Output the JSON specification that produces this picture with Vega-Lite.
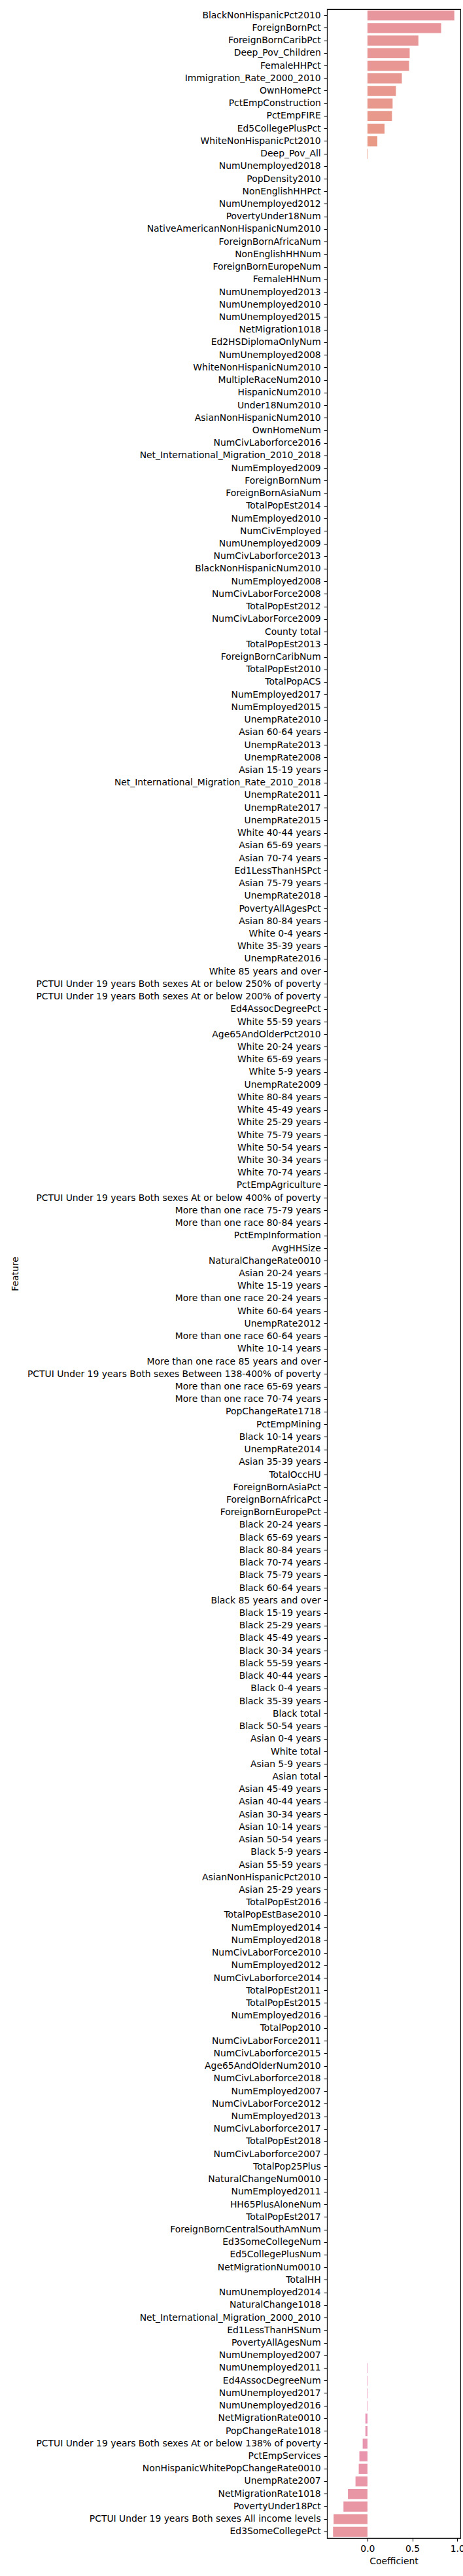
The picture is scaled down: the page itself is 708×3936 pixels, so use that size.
{
  "$schema": "https://vega.github.io/schema/vega-lite/v6.json",
  "autosize": {"type": "none"},
  "width": 204,
  "height": 3864,
  "padding": {"left": 500, "top": 14, "right": 4, "bottom": 58},
  "background": "white",
  "config": {
    "font": "DejaVu Sans",
    "view": {"stroke": "#000000", "strokeWidth": 1.1},
    "axis": {
      "domain": false,
      "grid": false,
      "tickColor": "#000000",
      "tickSize": 4.9,
      "tickWidth": 1.1,
      "labelColor": "#000000",
      "labelFont": "DejaVu Sans",
      "labelFontSize": 13.9,
      "labelPadding": 4.9,
      "titleColor": "#000000",
      "titleFont": "DejaVu Sans",
      "titleFontSize": 13.9,
      "titleFontWeight": "normal"
    }
  },
  "data": {
    "values": [
      {"Feature": "BlackNonHispanicPct2010", "Coefficient": 0.967},
      {"Feature": "ForeignBornPct", "Coefficient": 0.82},
      {"Feature": "ForeignBornCaribPct", "Coefficient": 0.567},
      {"Feature": "Deep_Pov_Children", "Coefficient": 0.47},
      {"Feature": "FemaleHHPct", "Coefficient": 0.463},
      {"Feature": "Immigration_Rate_2000_2010", "Coefficient": 0.383},
      {"Feature": "OwnHomePct", "Coefficient": 0.317},
      {"Feature": "PctEmpConstruction", "Coefficient": 0.28},
      {"Feature": "PctEmpFIRE", "Coefficient": 0.273},
      {"Feature": "Ed5CollegePlusPct", "Coefficient": 0.19},
      {"Feature": "WhiteNonHispanicPct2010", "Coefficient": 0.11},
      {"Feature": "Deep_Pov_All", "Coefficient": 0.006},
      {"Feature": "NumUnemployed2018", "Coefficient": 0},
      {"Feature": "PopDensity2010", "Coefficient": 0},
      {"Feature": "NonEnglishHHPct", "Coefficient": 0},
      {"Feature": "NumUnemployed2012", "Coefficient": 0},
      {"Feature": "PovertyUnder18Num", "Coefficient": 0},
      {"Feature": "NativeAmericanNonHispanicNum2010", "Coefficient": 0},
      {"Feature": "ForeignBornAfricaNum", "Coefficient": 0},
      {"Feature": "NonEnglishHHNum", "Coefficient": 0},
      {"Feature": "ForeignBornEuropeNum", "Coefficient": 0},
      {"Feature": "FemaleHHNum", "Coefficient": 0},
      {"Feature": "NumUnemployed2013", "Coefficient": 0},
      {"Feature": "NumUnemployed2010", "Coefficient": 0},
      {"Feature": "NumUnemployed2015", "Coefficient": 0},
      {"Feature": "NetMigration1018", "Coefficient": 0},
      {"Feature": "Ed2HSDiplomaOnlyNum", "Coefficient": 0},
      {"Feature": "NumUnemployed2008", "Coefficient": 0},
      {"Feature": "WhiteNonHispanicNum2010", "Coefficient": 0},
      {"Feature": "MultipleRaceNum2010", "Coefficient": 0},
      {"Feature": "HispanicNum2010", "Coefficient": 0},
      {"Feature": "Under18Num2010", "Coefficient": 0},
      {"Feature": "AsianNonHispanicNum2010", "Coefficient": 0},
      {"Feature": "OwnHomeNum", "Coefficient": 0},
      {"Feature": "NumCivLaborforce2016", "Coefficient": 0},
      {"Feature": "Net_International_Migration_2010_2018", "Coefficient": 0},
      {"Feature": "NumEmployed2009", "Coefficient": 0},
      {"Feature": "ForeignBornNum", "Coefficient": 0},
      {"Feature": "ForeignBornAsiaNum", "Coefficient": 0},
      {"Feature": "TotalPopEst2014", "Coefficient": 0},
      {"Feature": "NumEmployed2010", "Coefficient": 0},
      {"Feature": "NumCivEmployed", "Coefficient": 0},
      {"Feature": "NumUnemployed2009", "Coefficient": 0},
      {"Feature": "NumCivLaborforce2013", "Coefficient": 0},
      {"Feature": "BlackNonHispanicNum2010", "Coefficient": 0},
      {"Feature": "NumEmployed2008", "Coefficient": 0},
      {"Feature": "NumCivLaborForce2008", "Coefficient": 0},
      {"Feature": "TotalPopEst2012", "Coefficient": 0},
      {"Feature": "NumCivLaborForce2009", "Coefficient": 0},
      {"Feature": "County total", "Coefficient": 0},
      {"Feature": "TotalPopEst2013", "Coefficient": 0},
      {"Feature": "ForeignBornCaribNum", "Coefficient": 0},
      {"Feature": "TotalPopEst2010", "Coefficient": 0},
      {"Feature": "TotalPopACS", "Coefficient": 0},
      {"Feature": "NumEmployed2017", "Coefficient": 0},
      {"Feature": "NumEmployed2015", "Coefficient": 0},
      {"Feature": "UnempRate2010", "Coefficient": 0},
      {"Feature": "Asian 60-64 years", "Coefficient": 0},
      {"Feature": "UnempRate2013", "Coefficient": 0},
      {"Feature": "UnempRate2008", "Coefficient": 0},
      {"Feature": "Asian 15-19 years", "Coefficient": 0},
      {"Feature": "Net_International_Migration_Rate_2010_2018", "Coefficient": 0},
      {"Feature": "UnempRate2011", "Coefficient": 0},
      {"Feature": "UnempRate2017", "Coefficient": 0},
      {"Feature": "UnempRate2015", "Coefficient": 0},
      {"Feature": "White 40-44 years", "Coefficient": 0},
      {"Feature": "Asian 65-69 years", "Coefficient": 0},
      {"Feature": "Asian 70-74 years", "Coefficient": 0},
      {"Feature": "Ed1LessThanHSPct", "Coefficient": 0},
      {"Feature": "Asian 75-79 years", "Coefficient": 0},
      {"Feature": "UnempRate2018", "Coefficient": 0},
      {"Feature": "PovertyAllAgesPct", "Coefficient": 0},
      {"Feature": "Asian 80-84 years", "Coefficient": 0},
      {"Feature": "White 0-4 years", "Coefficient": 0},
      {"Feature": "White 35-39 years", "Coefficient": 0},
      {"Feature": "UnempRate2016", "Coefficient": 0},
      {"Feature": "White 85 years and over", "Coefficient": 0},
      {"Feature": "PCTUI Under 19 years Both sexes At or below 250% of poverty", "Coefficient": 0},
      {"Feature": "PCTUI Under 19 years Both sexes At or below 200% of poverty", "Coefficient": 0},
      {"Feature": "Ed4AssocDegreePct", "Coefficient": 0},
      {"Feature": "White 55-59 years", "Coefficient": 0},
      {"Feature": "Age65AndOlderPct2010", "Coefficient": 0},
      {"Feature": "White 20-24 years", "Coefficient": 0},
      {"Feature": "White 65-69 years", "Coefficient": 0},
      {"Feature": "White 5-9 years", "Coefficient": 0},
      {"Feature": "UnempRate2009", "Coefficient": 0},
      {"Feature": "White 80-84 years", "Coefficient": 0},
      {"Feature": "White 45-49 years", "Coefficient": 0},
      {"Feature": "White 25-29 years", "Coefficient": 0},
      {"Feature": "White 75-79 years", "Coefficient": 0},
      {"Feature": "White 50-54 years", "Coefficient": 0},
      {"Feature": "White 30-34 years", "Coefficient": 0},
      {"Feature": "White 70-74 years", "Coefficient": 0},
      {"Feature": "PctEmpAgriculture", "Coefficient": 0},
      {"Feature": "PCTUI Under 19 years Both sexes At or below 400% of poverty", "Coefficient": 0},
      {"Feature": "More than one race 75-79 years", "Coefficient": 0},
      {"Feature": "More than one race 80-84 years", "Coefficient": 0},
      {"Feature": "PctEmpInformation", "Coefficient": 0},
      {"Feature": "AvgHHSize", "Coefficient": 0},
      {"Feature": "NaturalChangeRate0010", "Coefficient": 0},
      {"Feature": "Asian 20-24 years", "Coefficient": 0},
      {"Feature": "White 15-19 years", "Coefficient": 0},
      {"Feature": "More than one race 20-24 years", "Coefficient": 0},
      {"Feature": "White 60-64 years", "Coefficient": 0},
      {"Feature": "UnempRate2012", "Coefficient": 0},
      {"Feature": "More than one race 60-64 years", "Coefficient": 0},
      {"Feature": "White 10-14 years", "Coefficient": 0},
      {"Feature": "More than one race 85 years and over", "Coefficient": 0},
      {"Feature": "PCTUI Under 19 years Both sexes Between 138-400% of poverty", "Coefficient": 0},
      {"Feature": "More than one race 65-69 years", "Coefficient": 0},
      {"Feature": "More than one race 70-74 years", "Coefficient": 0},
      {"Feature": "PopChangeRate1718", "Coefficient": 0},
      {"Feature": "PctEmpMining", "Coefficient": 0},
      {"Feature": "Black 10-14 years", "Coefficient": 0},
      {"Feature": "UnempRate2014", "Coefficient": 0},
      {"Feature": "Asian 35-39 years", "Coefficient": 0},
      {"Feature": "TotalOccHU", "Coefficient": 0},
      {"Feature": "ForeignBornAsiaPct", "Coefficient": 0},
      {"Feature": "ForeignBornAfricaPct", "Coefficient": 0},
      {"Feature": "ForeignBornEuropePct", "Coefficient": 0},
      {"Feature": "Black 20-24 years", "Coefficient": 0},
      {"Feature": "Black 65-69 years", "Coefficient": 0},
      {"Feature": "Black 80-84 years", "Coefficient": 0},
      {"Feature": "Black 70-74 years", "Coefficient": 0},
      {"Feature": "Black 75-79 years", "Coefficient": 0},
      {"Feature": "Black 60-64 years", "Coefficient": 0},
      {"Feature": "Black 85 years and over", "Coefficient": 0},
      {"Feature": "Black 15-19 years", "Coefficient": 0},
      {"Feature": "Black 25-29 years", "Coefficient": 0},
      {"Feature": "Black 45-49 years", "Coefficient": 0},
      {"Feature": "Black 30-34 years", "Coefficient": 0},
      {"Feature": "Black 55-59 years", "Coefficient": 0},
      {"Feature": "Black 40-44 years", "Coefficient": 0},
      {"Feature": "Black 0-4 years", "Coefficient": 0},
      {"Feature": "Black 35-39 years", "Coefficient": 0},
      {"Feature": "Black total", "Coefficient": 0},
      {"Feature": "Black 50-54 years", "Coefficient": 0},
      {"Feature": "Asian 0-4 years", "Coefficient": 0},
      {"Feature": "White total", "Coefficient": 0},
      {"Feature": "Asian 5-9 years", "Coefficient": 0},
      {"Feature": "Asian total", "Coefficient": 0},
      {"Feature": "Asian 45-49 years", "Coefficient": 0},
      {"Feature": "Asian 40-44 years", "Coefficient": 0},
      {"Feature": "Asian 30-34 years", "Coefficient": 0},
      {"Feature": "Asian 10-14 years", "Coefficient": 0},
      {"Feature": "Asian 50-54 years", "Coefficient": 0},
      {"Feature": "Black 5-9 years", "Coefficient": 0},
      {"Feature": "Asian 55-59 years", "Coefficient": 0},
      {"Feature": "AsianNonHispanicPct2010", "Coefficient": 0},
      {"Feature": "Asian 25-29 years", "Coefficient": 0},
      {"Feature": "TotalPopEst2016", "Coefficient": 0},
      {"Feature": "TotalPopEstBase2010", "Coefficient": 0},
      {"Feature": "NumEmployed2014", "Coefficient": 0},
      {"Feature": "NumEmployed2018", "Coefficient": 0},
      {"Feature": "NumCivLaborForce2010", "Coefficient": 0},
      {"Feature": "NumEmployed2012", "Coefficient": 0},
      {"Feature": "NumCivLaborforce2014", "Coefficient": 0},
      {"Feature": "TotalPopEst2011", "Coefficient": 0},
      {"Feature": "TotalPopEst2015", "Coefficient": 0},
      {"Feature": "NumEmployed2016", "Coefficient": 0},
      {"Feature": "TotalPop2010", "Coefficient": 0},
      {"Feature": "NumCivLaborForce2011", "Coefficient": 0},
      {"Feature": "NumCivLaborforce2015", "Coefficient": 0},
      {"Feature": "Age65AndOlderNum2010", "Coefficient": 0},
      {"Feature": "NumCivLaborforce2018", "Coefficient": 0},
      {"Feature": "NumEmployed2007", "Coefficient": 0},
      {"Feature": "NumCivLaborForce2012", "Coefficient": 0},
      {"Feature": "NumEmployed2013", "Coefficient": 0},
      {"Feature": "NumCivLaborforce2017", "Coefficient": 0},
      {"Feature": "TotalPopEst2018", "Coefficient": 0},
      {"Feature": "NumCivLaborforce2007", "Coefficient": 0},
      {"Feature": "TotalPop25Plus", "Coefficient": 0},
      {"Feature": "NaturalChangeNum0010", "Coefficient": 0},
      {"Feature": "NumEmployed2011", "Coefficient": 0},
      {"Feature": "HH65PlusAloneNum", "Coefficient": 0},
      {"Feature": "TotalPopEst2017", "Coefficient": 0},
      {"Feature": "ForeignBornCentralSouthAmNum", "Coefficient": 0},
      {"Feature": "Ed3SomeCollegeNum", "Coefficient": 0},
      {"Feature": "Ed5CollegePlusNum", "Coefficient": 0},
      {"Feature": "NetMigrationNum0010", "Coefficient": 0},
      {"Feature": "TotalHH", "Coefficient": 0},
      {"Feature": "NumUnemployed2014", "Coefficient": 0},
      {"Feature": "NaturalChange1018", "Coefficient": 0},
      {"Feature": "Net_International_Migration_2000_2010", "Coefficient": 0},
      {"Feature": "Ed1LessThanHSNum", "Coefficient": 0},
      {"Feature": "PovertyAllAgesNum", "Coefficient": 0},
      {"Feature": "NumUnemployed2007", "Coefficient": 0},
      {"Feature": "NumUnemployed2011", "Coefficient": -0.005},
      {"Feature": "Ed4AssocDegreeNum", "Coefficient": -0.005},
      {"Feature": "NumUnemployed2017", "Coefficient": -0.005},
      {"Feature": "NumUnemployed2016", "Coefficient": -0.005},
      {"Feature": "NetMigrationRate0010", "Coefficient": -0.023},
      {"Feature": "PopChangeRate1018", "Coefficient": -0.023},
      {"Feature": "PCTUI Under 19 years Both sexes At or below 138% of poverty", "Coefficient": -0.053},
      {"Feature": "PctEmpServices", "Coefficient": -0.09},
      {"Feature": "NonHispanicWhitePopChangeRate0010", "Coefficient": -0.097},
      {"Feature": "UnempRate2007", "Coefficient": -0.133},
      {"Feature": "NetMigrationRate1018", "Coefficient": -0.217},
      {"Feature": "PovertyUnder18Pct", "Coefficient": -0.267},
      {"Feature": "PCTUI Under 19 years Both sexes All income levels", "Coefficient": -0.377},
      {"Feature": "Ed3SomeCollegePct", "Coefficient": -0.383}
    ]
  },
  "mark": {"type": "bar"},
  "encoding": {
    "y": {
      "field": "Feature",
      "type": "nominal",
      "sort": null,
      "scale": {"paddingInner": 0.2, "paddingOuter": 0.1},
      "axis": {"title": "Feature", "labelLimit": 1000, "labelOverlap": false, "titleX": -473, "titleY": 1932, "titleAngle": -90, "titleBaseline": "alphabetic", "titleAlign": "center"}
    },
    "x": {
      "field": "Coefficient",
      "type": "quantitative",
      "scale": {"domain": [-0.4505, 1.0345], "nice": false, "zero": false},
      "axis": {"title": "Coefficient", "values": [0, 0.5, 1], "format": ".1f", "titlePadding": 5, "labelFlush": false}
    },
    "color": {
      "field": "Feature",
      "type": "nominal",
      "sort": null,
      "legend": null,
      "scale": {
        "range": [
          "#e8969e", "#e8969b", "#e89799", "#e89796", "#e89794", "#e89892", "#e8988f", "#e8988d", "#e8998b", "#e89989", "#e89a87", "#e89a85",
          "#d6a27a", "#d6a27a", "#d6a27a", "#d6a27a", "#d6a27a", "#d6a27a", "#d6a27a", "#d6a27a", "#d6a27a", "#d6a27a", "#d6a27a", "#d6a27a", "#d6a27a",
          "#bda86f", "#bda86f", "#bda86f", "#bda86f", "#bda86f", "#bda86f", "#bda86f", "#bda86f", "#bda86f", "#bda86f", "#bda86f", "#bda86f", "#bda86f", "#bda86f", "#bda86f",
          "#a0b06f", "#a0b06f", "#a0b06f", "#a0b06f", "#a0b06f", "#a0b06f", "#a0b06f", "#a0b06f", "#a0b06f", "#a0b06f", "#a0b06f", "#a0b06f", "#a0b06f", "#a0b06f", "#a0b06f", "#a0b06f", "#a0b06f", "#a0b06f", "#a0b06f", "#a0b06f",
          "#7db77a", "#7db77a", "#7db77a", "#7db77a", "#7db77a", "#7db77a", "#7db77a", "#7db77a", "#7db77a", "#7db77a", "#7db77a", "#7db77a", "#7db77a", "#7db77a", "#7db77a", "#7db77a", "#7db77a", "#7db77a", "#7db77a", "#7db77a",
          "#72b59b", "#72b59b", "#72b59b", "#72b59b", "#72b59b", "#72b59b", "#72b59b", "#72b59b", "#72b59b", "#72b59b", "#72b59b", "#72b59b", "#72b59b", "#72b59b", "#72b59b", "#72b59b", "#72b59b", "#72b59b", "#72b59b", "#72b59b",
          "#73b2ae", "#73b2ae", "#73b2ae", "#73b2ae", "#73b2ae", "#73b2ae", "#73b2ae", "#73b2ae", "#73b2ae", "#73b2ae", "#73b2ae", "#73b2ae", "#73b2ae", "#73b2ae", "#73b2ae", "#73b2ae", "#73b2ae", "#73b2ae", "#73b2ae", "#73b2ae",
          "#78afc4", "#78afc4", "#78afc4", "#78afc4", "#78afc4", "#78afc4", "#78afc4", "#78afc4", "#78afc4", "#78afc4", "#78afc4", "#78afc4", "#78afc4", "#78afc4", "#78afc4", "#78afc4", "#78afc4", "#78afc4", "#78afc4", "#78afc4",
          "#8ea7de", "#8ea7de", "#8ea7de", "#8ea7de", "#8ea7de", "#8ea7de", "#8ea7de", "#8ea7de", "#8ea7de", "#8ea7de", "#8ea7de", "#8ea7de", "#8ea7de", "#8ea7de", "#8ea7de", "#8ea7de", "#8ea7de", "#8ea7de", "#8ea7de", "#8ea7de",
          "#b79ce0", "#b79ce0", "#b79ce0", "#b79ce0", "#b79ce0", "#b79ce0", "#b79ce0", "#b79ce0", "#b79ce0", "#b79ce0", "#b79ce0", "#b79ce0", "#b79ce0", "#b79ce0", "#b79ce0",
          "#da93d2", "#da93d2", "#da93d2", "#da93d2", "#da93d2", "#da93d2", "#da93d2", "#da93d2", "#da93d2", "#da93d2", "#da93d2", "#da93d2",
          "#e893c2", "#e893bf", "#e894bb", "#e894b8", "#e894b5", "#e895b2", "#e895b0", "#e895ad", "#e895aa", "#e896a8", "#e896a5", "#e896a3", "#e896a0", "#e8969f"
        ]
      }
    }
  }
}
